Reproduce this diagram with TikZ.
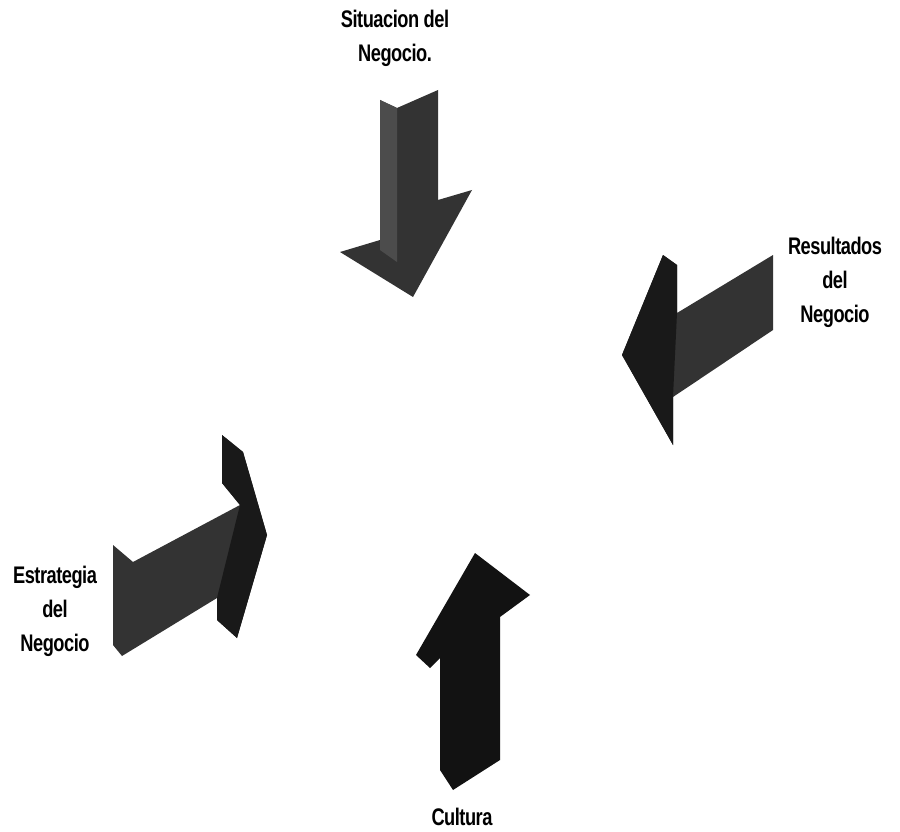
\documentclass[tikz,border=0pt]{standalone}
\usepackage{fontspec}
\setmainfont{Liberation Sans}[FakeStretch=0.76,LetterSpace=-2]
\begin{document}
\begin{tikzpicture}[x=1pt,y=-1pt,
  face/.style={fill=black!80,draw=none},
  darkface/.style={fill=black!90,draw=none},
  lightface/.style={fill=black!70,draw=none},
  lbl/.style={font=\bfseries\fontsize{24}{34}\selectfont,align=center,inner sep=0pt}]
\useasboundingbox (0,0) rectangle (900,832);

% top arrow, pointing down
\fill[face] (380,100) -- (397,108) -- (438,90) -- (438,200) -- (472,190)
  -- (413,297) -- (340,252) -- (380,240) -- cycle;
\fill[lightface] (380,100) -- (397,108) -- (397,262) -- (380,250) -- cycle;

% right arrow, pointing left
\fill[face] (773,255) -- (677,313) -- (677,265) -- (663,255) -- (622,355)
  -- (673,445) -- (673,397) -- (773,330) -- cycle;
\fill[darkface] (677,265) -- (663,255) -- (622,355) -- (673,445) -- (673,397)
  -- (677,313) -- cycle;

% left arrow, pointing right
\fill[face] (113,545) -- (133,562) -- (240,505) -- (222,483) -- (222,435)
  -- (243,452) -- (267,535) -- (237,638) -- (217,620) -- (217,598)
  -- (122,656) -- (113,645) -- cycle;
\fill[darkface] (240,505) -- (222,483) -- (222,435) -- (243,452) -- (267,535)
  -- (237,638) -- (217,620) -- (217,598) -- cycle;

% bottom arrow, pointing up
\fill[black!93] (475,553) -- (530,595) -- (500,617) -- (500,760) -- (453,790)
  -- (440,770) -- (440,658) -- (430,668) -- (416,655) -- cycle;

% labels
\node[lbl] (sit) at (395,38) {Situacion del\\Negocio.};
\node[lbl] (res) at (835,282) {Resultados\\del\\Negocio};
\node[lbl] (est) at (55,611) {Estrategia\\del\\Negocio};
\node[lbl] (cul) at (462,817) {Cultura};
\end{tikzpicture}
\end{document}
